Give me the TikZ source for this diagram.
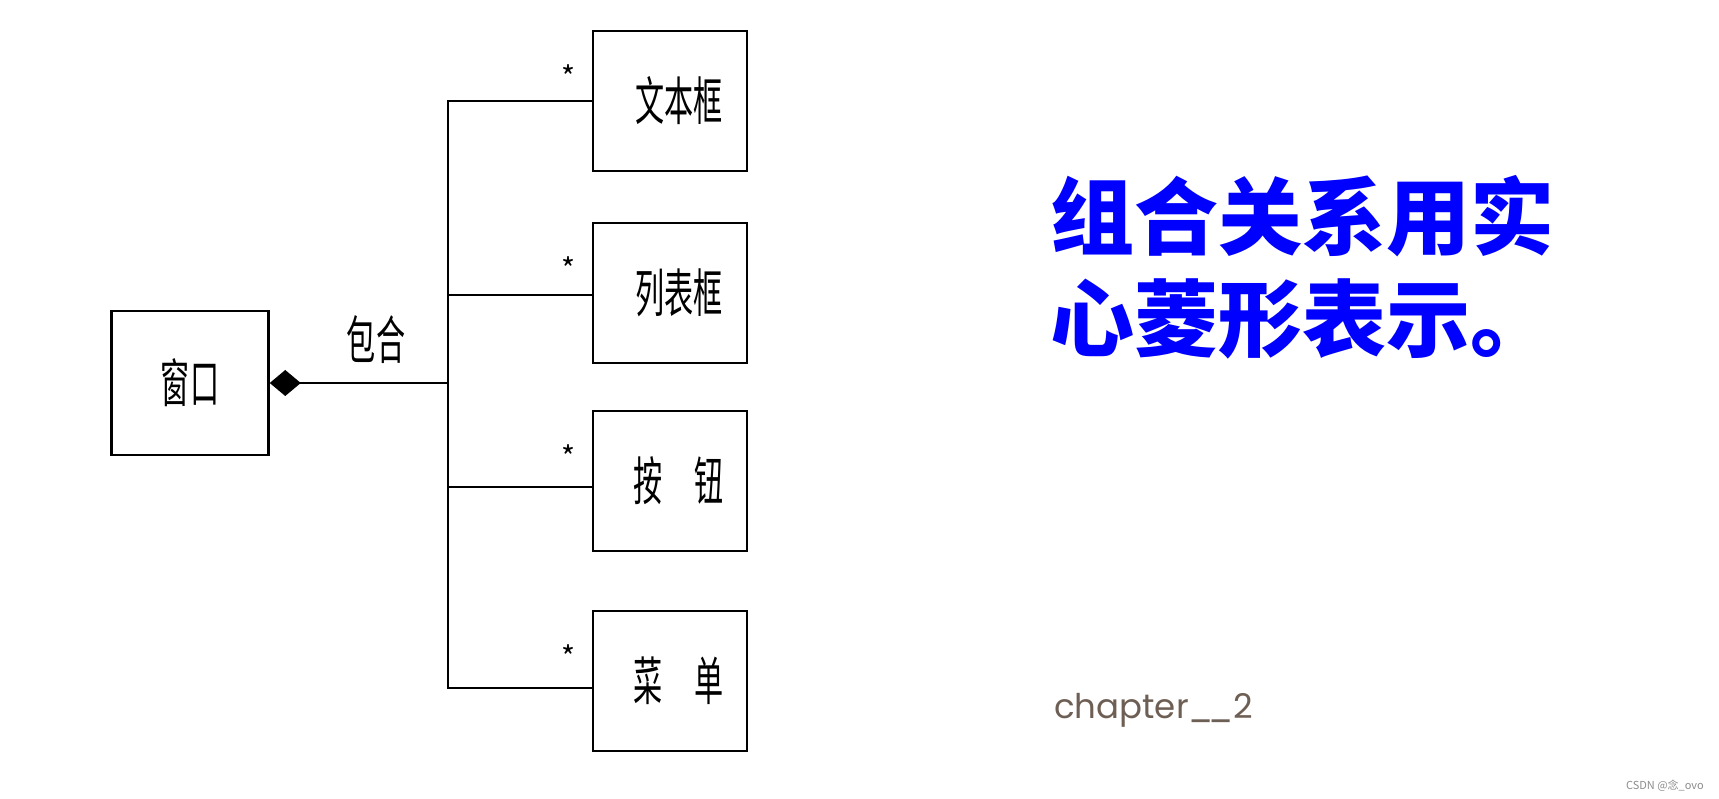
\documentclass[tikz,border=0pt]{standalone}
\usepackage{fontspec}
\usepackage{xcolor}
\setmainfont{Noto Sans CJK SC}
\newfontfamily\cjknarrow[FakeStretch=0.56]{Noto Sans CJK SC}
\newfontfamily\chapfont{Poppins}
\definecolor{chapgray}{HTML}{6E5F55}
\usetikzlibrary{arrows.meta,positioning}
\tikzset{
  boxtext/.style = {inner sep=0pt, font=\cjknarrow\fontsize{52}{52}\selectfont},
  cls/.style     = {boxtext, draw, line width=2.5pt, minimum width=154pt,
                    minimum height=140pt},
  assoc/.style   = {line width=2pt},
  mult/.style    = {inner sep=0pt, font=\fontsize{30}{30}\selectfont},
}
\begin{document}
\begin{tikzpicture}[x=1pt,y=-1pt]
\useasboundingbox (0,0) rectangle (1719,799);
\node[cls, minimum width=157pt, minimum height=144pt] (win) at (190,383) {窗口};
% parts, with the drop of each branch below the box centre
\foreach \n/\y/\d/\t in {1/101/0/文本框, 2/293/2/列表框, 3/481/6/按\hspace*{32pt}钮, 4/681/7/菜\hspace*{32pt}单}{
  \node[cls] (b\n) at (670,\y) {\hspace*{18pt}\t};
  \node[mult] (m\n) at ([shift={(-23pt,24pt)}]b\n.west) {*};
  \coordinate (e\n) at ([yshift=-\d pt]b\n.west);
}
\coordinate (junc) at (448,383);
\draw[assoc, {Diamond[length=31pt,width=26pt]}-] (win.east) -- (junc);
\node[boxtext] (rel) at (376,340) {包合};
\draw[assoc] (e1) -- (e1 -| junc) -- (e4 -| junc) -- (e4);
\foreach \n in {2,3} \draw[assoc] (e\n) -- (e\n -| junc);
% note on the right
\node[anchor=north west, inner sep=0pt, align=left, text=blue,
      font=\bfseries\fontsize{84}{102}\selectfont] (note) at (1050,175)
      {组合关系用实\\心菱形表示。};
\node[anchor=base west, inner sep=0pt, text=chapgray,
      font=\chapfont\fontsize{34}{34}\selectfont] (chap) at (1054,718)
      {chapter\_\kern-5pt\_2};
\node[anchor=east, inner sep=0pt, text=black!45,
      font=\fontsize{11}{11}\selectfont] (wm) at (1704,786) {CSDN @念\_ovo};
\end{tikzpicture}
\end{document}
